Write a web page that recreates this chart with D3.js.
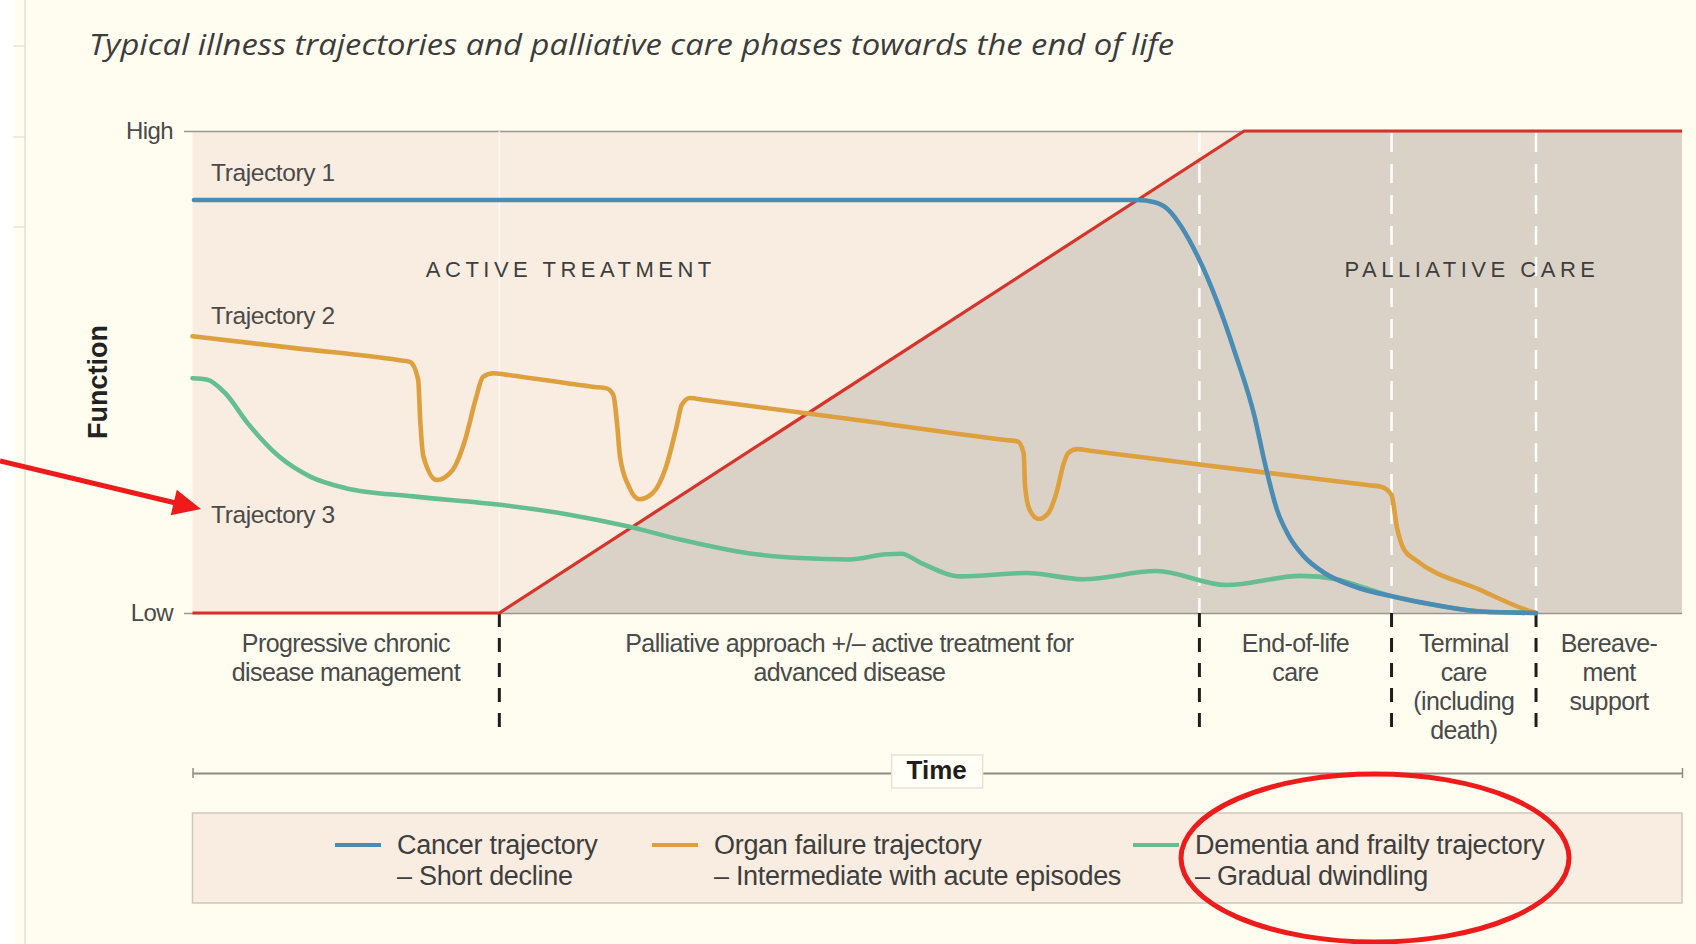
<!DOCTYPE html>
<html><head><meta charset="utf-8">
<script src="https://cdn.jsdelivr.net/npm/d3@7"></script>
<style>body{margin:0;background:#fffdf0;overflow:hidden} svg{display:block}</style>
</head><body>
<svg id="chart" width="1696" height="944"></svg>
<script>
// ---------- data ----------
const titleText = "Typical illness trajectories and palliative care phases towards the end of life";
const yTickValues = [0, 100];
const yTickLabels = ["Low", "High"];
const phaseBoundaries = [20.6, 67.6, 80.5, 90.2];
const phaseLabels = [
  ["Progressive chronic", "disease management"],
  ["Palliative approach +/\u2013 active treatment for", "advanced disease"],
  ["End-of-life", "care"],
  ["Terminal", "care", "(including", "death)"],
  ["Bereave-", "ment", "support"]
];
const careLine = [[0, 0], [20.6, 0], [70.6, 100], [100, 100]];
const cancer = [[0.1,85.7],[40,85.7],[63.4,85.7],[64.6,85.2],[65.6,83.4],[66.4,80.1],[67.5,73.9],[68.75,64.9],[70.0,53.9],[71.3,40.8],[72.0,31.0],[72.8,21.5],[73.6,16.0],[74.6,11.8],[76.0,8.3],[78.0,5.5],[80.6,3.4],[83.9,1.4],[86.5,0.3],[90.2,0]];
const organ = [[0,57.4],[7,54.9],[13.8,52.5],[14.6,52.1],[15.15,48.4],[15.3,39.4],[15.5,32.5],[16.4,27.6],[17.4,29.4],[18.3,35.9],[19.0,44.2],[19.5,49.0],[20.2,49.75],[21,49.45],[27,46.9],[27.8,46.6],[28.25,45.25],[28.5,39.4],[28.7,32.5],[29.3,26.2],[30.0,23.6],[30.9,24.9],[31.8,30.4],[32.5,38.7],[32.85,43.2],[33.4,44.6],[34.4,44.2],[44,40.3],[54.6,35.9],[55.4,35.6],[55.8,33.2],[55.9,26.2],[56.2,21.4],[56.8,19.5],[57.45,20.7],[58.0,24.9],[58.5,31.1],[58.8,33.2],[59.4,34.0],[60.4,33.6],[70,29.9],[79.0,26.5],[79.8,26.2],[80.5,24.5],[80.85,17.95],[81.35,13.1],[82.1,11.05],[86.45,4.8],[89.5,0.7],[90.2,0]];
const dementia = [[0,48.7],[1,48.4],[2.2,45.6],[3.7,39.4],[5.8,32.5],[7.9,28.3],[10.3,25.9],[14.8,24.2],[20.8,22.4],[25.3,20.4],[29.2,18.0],[32.8,15.2],[37.3,12.4],[40.8,11.4],[44.1,11.1],[46.6,12.2],[47.6,12.3],[48.9,10.4],[51.6,7.6],[56.0,8.3],[59.8,7.0],[64.7,8.7],[69.4,5.8],[74.4,7.7],[76.8,7.0],[78.6,5.3],[80.6,3.4],[83.9,1.4],[86.5,0.3],[90.2,0]];
const trajectoryNames = ["Trajectory 1", "Trajectory 2", "Trajectory 3"];
const trajectoryLabelY = [91.0, 61.4, 20.1];
const zoneNames = ["ACTIVE TREATMENT", "PALLIATIVE CARE"];
const legendNames = ["Cancer trajectory", "Organ failure trajectory", "Dementia and frailty trajectory"];
const legendSubs = ["\u2013 Short decline", "\u2013 Intermediate with acute episodes", "\u2013 Gradual dwindling"];
const axisTitleY = "Function";
const axisTitleX = "Time";

// ---------- drawing ----------
const svg = d3.select("#chart");
const FONT = "'Liberation Sans', Arial, sans-serif";
const colors = {blue:"#4a8cb3", orange:"#dea03e", green:"#64be91", red:"#d6342a", peach:"#f9ece0", grey:"#dbd2c7", text:"#4a4a4a"};
const x = d3.scaleLinear().domain([0, 100]).range([192.5, 1682]);
const y = d3.scaleLinear().domain([0, 100]).range([613, 131]);

svg.append("rect").attr("width", 1696).attr("height", 944).attr("fill", "#fffdf0");
svg.append("rect").attr("width", 15).attr("height", 944).attr("fill", "#ffffff");
svg.append("line").attr("x1", 25).attr("x2", 25).attr("y1", 0).attr("y2", 944).attr("stroke", "#e4e1d4").attr("stroke-width", 1.5);
[46, 137, 227].forEach(v => svg.append("line").attr("x1", 13).attr("x2", 25).attr("y1", v).attr("y2", v).attr("stroke", "#dcd9cc"));

// title
svg.append("text").attr("x", 89).attr("y", 47).attr("dominant-baseline", "middle")
  .attr("font-family", "'Open Sans', sans-serif").attr("font-style", "italic").attr("font-size", 30)
  .attr("fill", "#3c3c3c").attr("textLength", 1085).attr("lengthAdjust", "spacingAndGlyphs").text(titleText);

// plot background
svg.append("rect").attr("x", x(0)).attr("y", y(100)).attr("width", x(100) - x(0)).attr("height", y(0) - y(100)).attr("fill", colors.peach);
const shaded = careLine.filter(d => d[0] >= phaseBoundaries[0]);
svg.append("path").datum(shaded)
  .attr("d", d3.area().x(d => x(d[0])).y0(y(0)).y1(d => y(d[1])))
  .attr("fill", colors.grey);

// y axis (Low / High) with horizontal guide lines
const yAxis = d3.axisLeft(y).tickValues(yTickValues).tickFormat((d, i) => yTickLabels[i])
  .tickSize(-(x(100) - 184)).tickPadding(11);
const gy = svg.append("g").attr("transform", "translate(184,0)").call(yAxis);
gy.select(".domain").remove();
gy.selectAll(".tick line").attr("stroke", "#9a9590").attr("stroke-width", 1.6);
gy.selectAll(".tick text").attr("font-family", FONT).attr("font-size", 24).attr("fill", colors.text).attr("letter-spacing", -0.6);

// dashed phase lines in the plot
svg.append("line").attr("x1", x(phaseBoundaries[0])).attr("x2", x(phaseBoundaries[0]))
  .attr("y1", y(100)).attr("y2", y(0)).attr("stroke", "#ffffff").attr("stroke-opacity", 0.6).attr("stroke-width", 2);
svg.selectAll("line.pdash").data(phaseBoundaries.slice(1)).join("line").attr("class", "pdash")
  .attr("x1", d => x(d)).attr("x2", d => x(d)).attr("y1", y(100) + 2).attr("y2", y(0))
  .attr("stroke", "#ffffff").attr("stroke-width", 2.5).attr("stroke-dasharray", "19,12");
// black dashed lines below
svg.selectAll("line.bdash").data(phaseBoundaries).join("line").attr("class", "bdash")
  .attr("x1", d => x(d)).attr("x2", d => x(d)).attr("y1", y(0)).attr("y2", 728)
  .attr("stroke", "#1e1e1e").attr("stroke-width", 3).attr("stroke-dasharray", "14,11");

// zone labels
svg.selectAll("text.zone").data(zoneNames).join("text").attr("class", "zone")
  .attr("x", (d, i) => x(i === 0 ? 25.4 : 85.9)).attr("y", y(71.0))
  .attr("text-anchor", "middle").attr("dominant-baseline", "middle")
  .attr("font-family", FONT).attr("font-size", 22).attr("letter-spacing", 4.5).attr("fill", "#3e3e3e").text(d => d);

// red care line
svg.append("path").datum(careLine).attr("d", d3.line().x(d => x(d[0])).y(d => y(d[1])))
  .attr("fill", "none").attr("stroke", colors.red).attr("stroke-width", 3.2).attr("stroke-linejoin", "round");

// trajectories
const line = d3.line().x(d => x(d[0])).y(d => y(d[1])).curve(d3.curveMonotoneX);
[[dementia, colors.green], [organ, colors.orange], [cancer, colors.blue]].forEach(([data, c]) => {
  svg.append("path").datum(data).attr("d", line).attr("fill", "none")
    .attr("stroke", c).attr("stroke-width", 4.6).attr("stroke-linejoin", "round").attr("stroke-linecap", "round");
});

// trajectory labels
svg.selectAll("text.traj").data(trajectoryNames).join("text").attr("class", "traj")
  .attr("x", x(1.25)).attr("y", (d, i) => y(trajectoryLabelY[i])).attr("dominant-baseline", "middle")
  .attr("font-family", FONT).attr("font-size", 24.5).attr("letter-spacing", -0.4).attr("fill", colors.text).text(d => d);

// Function title
svg.append("text").attr("transform", `translate(100,${(y(0) + y(100)) / 2 + 10}) rotate(-90)`)
  .attr("text-anchor", "middle").attr("dominant-baseline", "middle")
  .attr("font-family", FONT).attr("font-weight", "bold").attr("font-size", 27).attr("fill", "#222").text(axisTitleY);

// phase labels
const bounds = [0, ...phaseBoundaries, 100];
phaseLabels.forEach((lines, i) => {
  const cx = x((bounds[i] + bounds[i + 1]) / 2);
  const t = svg.append("text").attr("text-anchor", "middle").attr("font-family", FONT)
    .attr("font-size", 25).attr("letter-spacing", -0.6).attr("fill", colors.text);
  lines.forEach((s, j) => t.append("tspan").attr("x", cx).attr("y", 652 + j * 29).text(s));
});

// time axis
const xAxis = d3.axisBottom(x).tickValues([0, 100]).tickFormat("").tickSize(10).tickSizeOuter(0);
const gx = svg.append("g").attr("transform", "translate(0,768)").call(xAxis);
gx.select(".domain").attr("transform", "translate(0,5)").attr("stroke", "#8e8a84").attr("stroke-width", 2);
gx.selectAll(".tick line").attr("stroke", "#8e8a84").attr("stroke-width", 1.5);
const tx = x(50) - 0.6;
svg.append("rect").attr("x", tx - 45).attr("y", 755).attr("width", 91).attr("height", 33)
  .attr("fill", "#fffef7").attr("stroke", "#e6e2d6").attr("stroke-width", 1.5);
svg.append("text").attr("x", tx).attr("y", 772).attr("text-anchor", "middle").attr("dominant-baseline", "middle")
  .attr("font-family", FONT).attr("font-weight", "bold").attr("font-size", 26).attr("fill", "#1e1e1e").text(axisTitleX);

// legend
svg.append("rect").attr("x", x(0)).attr("y", 813).attr("width", x(100) - x(0)).attr("height", 90)
  .attr("fill", colors.peach).attr("stroke", "#cdc7bc").attr("stroke-width", 1.5);
const legendColors = [colors.blue, colors.orange, colors.green];
const legendX = [335, 652, 1133];
legendNames.forEach((n, i) => {
  svg.append("line").attr("x1", legendX[i]).attr("x2", legendX[i] + 46).attr("y1", 845).attr("y2", 845)
    .attr("stroke", legendColors[i]).attr("stroke-width", 4);
  const t = svg.append("text").attr("font-family", FONT).attr("font-size", 27).attr("letter-spacing", -0.3).attr("fill", "#3e3e3e");
  t.append("tspan").attr("x", legendX[i] + 62).attr("y", 854).text(n);
  t.append("tspan").attr("x", legendX[i] + 62).attr("y", 885).text(legendSubs[i]);
});

// red annotations
svg.append("ellipse").attr("cx", 1375).attr("cy", 858).attr("rx", 194).attr("ry", 84)
  .attr("fill", "none").attr("stroke", "#ee1b1b").attr("stroke-width", 5);
const a0 = [0, 461], tip = [201, 509];
const ang = Math.atan2(tip[1] - a0[1], tip[0] - a0[0]);
const L = 28, Wd = 13;
const base = [tip[0] - L * Math.cos(ang), tip[1] - L * Math.sin(ang)];
svg.append("line").attr("x1", a0[0]).attr("y1", a0[1]).attr("x2", base[0] + 2 * Math.cos(ang)).attr("y2", base[1] + 2 * Math.sin(ang))
  .attr("stroke", "#ee1b1b").attr("stroke-width", 5);
svg.append("polygon").attr("points", [
  tip,
  [base[0] + Wd * Math.sin(ang), base[1] - Wd * Math.cos(ang)],
  [base[0] - Wd * Math.sin(ang), base[1] + Wd * Math.cos(ang)]
].map(p => p.join(",")).join(" ")).attr("fill", "#ee1b1b");
</script>
</body></html>
